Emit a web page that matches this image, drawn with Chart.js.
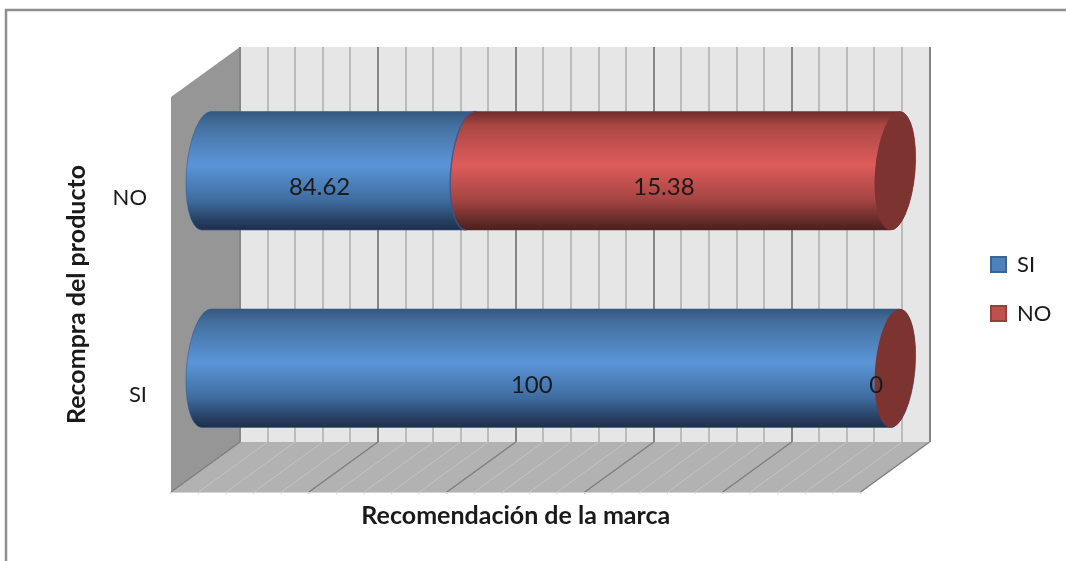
<!DOCTYPE html>
<html>
<head>
<meta charset="utf-8">
<style>
  html, body { margin: 0; padding: 0; background: #fff; overflow: hidden; }
  #wrap { width: 1066px; height: 561px; }
</style>
<script src="https://cdn.jsdelivr.net/npm/chart.js@4"></script>
</head>
<body>
<div id="wrap"><canvas id="chart" width="1066" height="561"></canvas></div>
<script>
const categories = ['NO', 'SI'];
const seriesNames = ['SI', 'NO'];
// bar lengths as drawn in the picture
const siLengths = [38.46, 100];
const noLengths = [61.54, 0];
// numbers printed on the bars (they differ from the drawn lengths in the original)
const siLabels = ['84.62', '100'];
const noLabels = ['15.38', '0'];
const FONT = 'Lato';

// half of the depth of the 3d box, bars stand in the middle of it
const DEPTH_X = 69, DEPTH_Y = 50;
const TILT = 5 * Math.PI / 180;
const CAP_RX = 20;

const blueStops = [[0, '#35597f'], [0.12, '#44709f'], [0.45, '#5b95d9'], [0.75, '#3f6c9f'], [0.92, '#263f62'], [1, '#1d2f4b']];
const redStops  = [[0, '#6f2c2a'], [0.12, '#ab4744'], [0.45, '#de5c5a'], [0.75, '#a34442'], [0.92, '#652b29'], [1, '#4a1f1e']];
const capColor = '#7d3430';

function barGradient(ctx, top, bottom, stops) {
    const g = ctx.createLinearGradient(0, top, 0, bottom);
    stops.forEach(s => g.addColorStop(s[0], s[1]));
    return g;
}

function polygon(ctx, pts, fill) {
    ctx.beginPath();
    pts.forEach((p, i) => i ? ctx.lineTo(p[0], p[1]) : ctx.moveTo(p[0], p[1]));
    ctx.closePath();
    ctx.fillStyle = fill;
    ctx.fill();
}

// one cylinder segment between x0 and x1, with the rounded left side bulging out
function drawCylinder(ctx, x0, x1, cy, r, stops, edge) {
    const dx = Math.sin(TILT) * r;
    const ry = r / Math.cos(TILT);
    ctx.beginPath();
    ctx.moveTo(x0 + dx, cy - r);
    ctx.lineTo(x1 + dx, cy - r);
    ctx.ellipse(x1, cy, CAP_RX, ry, TILT, -Math.PI / 2, Math.PI / 2);
    ctx.lineTo(x0 - dx, cy + r);
    ctx.ellipse(x0, cy, CAP_RX, ry, TILT, Math.PI / 2, Math.PI * 1.5);
    ctx.closePath();
    ctx.fillStyle = barGradient(ctx, cy - r, cy + r, stops);
    ctx.fill();
    ctx.strokeStyle = edge;
    ctx.lineWidth = 1;
    ctx.stroke();
}

const box3dPlugin = {
    id: 'box3d',
    afterLayout(chart) {
        // legend sits further right than the layout would put it
        const lg = chart.legend;
        const dx = 964 - lg.left;
        lg.left += dx; lg.right += dx;
        // axis titles belong to the front of the box, not the back wall
        const { x: xs, y: ys } = chart.scales;
        if (!xs._titleShifted) {
            shiftTitle(xs, -DEPTH_X, 0);
            shiftTitle(ys, 0, DEPTH_Y);
            xs._titleShifted = true;
        }
    },
    beforeDraw(chart) {
        const { ctx, chartArea: a, scales: { x } } = chart;
        const dx = DEPTH_X, dy = DEPTH_Y;
        ctx.save();
        // outer frame
        ctx.strokeStyle = '#8e8e8e';
        ctx.lineWidth = 2.5;
        ctx.beginPath();
        ctx.moveTo(6, 561); ctx.lineTo(6, 10); ctx.lineTo(1066, 10);
        ctx.stroke();
        // back wall, side wall, floor
        polygon(ctx, [[a.left, a.top], [a.right, a.top], [a.right, a.bottom], [a.left, a.bottom]], '#e6e6e6');
        polygon(ctx, [[a.left - dx, a.top + dy], [a.left, a.top], [a.left, a.bottom], [a.left - dx, a.bottom + dy]], '#969696');
        polygon(ctx, [[a.left - dx, a.bottom + dy], [a.left, a.bottom], [a.right, a.bottom], [a.right - dx, a.bottom + dy]], '#b2b2b2');
        // floor lines and little ticks on its front edge
        x.ticks.forEach(t => {
            const px = x.getPixelForValue(t.value);
            const major = t.value % 20 === 0;
            ctx.strokeStyle = major ? '#7f7f7f' : '#c4c4c4';
            ctx.lineWidth = major ? 1.5 : 1;
            ctx.beginPath();
            ctx.moveTo(px, a.bottom);
            ctx.lineTo(px - dx, a.bottom + dy);
            ctx.stroke();
            ctx.strokeStyle = '#d0d0d0';
            ctx.beginPath();
            ctx.moveTo(px - dx, a.bottom + dy);
            ctx.lineTo(px - dx, a.bottom + dy + 2);
            ctx.stroke();
        });
        ctx.strokeStyle = '#d4d4d4';
        ctx.lineWidth = 1;
        ctx.beginPath();
        ctx.moveTo(a.left - dx, a.bottom + dy + 0.5);
        ctx.lineTo(a.right - dx, a.bottom + dy + 0.5);
        ctx.stroke();
        ctx.restore();
    },
    beforeDatasetsDraw(chart) {
        // the library's bar rectangles give the position, the cylinders replace them.
        // SI first so the NO segment and its cap come out on top
        const { ctx } = chart;
        ctx.save();
        chart.getDatasetMeta(0).data.forEach(bar => {
            drawCylinder(ctx, bar.base - DEPTH_X / 2, bar.x - DEPTH_X / 2, bar.y + DEPTH_Y / 2, bar.height / 2, blueStops, 'rgba(50,90,140,0.55)');
        });
        chart.getDatasetMeta(1).data.forEach(bar => {
            const x0 = bar.base - DEPTH_X / 2;
            const x1 = bar.x - DEPTH_X / 2;
            const cy = bar.y + DEPTH_Y / 2;
            const r = bar.height / 2;
            if (x1 - x0 > 0.5) {
                drawCylinder(ctx, x0, x1, cy, r, redStops, 'rgba(110,45,50,0.5)');
                // bluish rim where the red part meets the blue one
                ctx.beginPath();
                ctx.ellipse(x0, cy, CAP_RX, r / Math.cos(TILT), TILT, Math.PI / 2, Math.PI * 1.5);
                ctx.strokeStyle = 'rgba(60,90,150,0.7)';
                ctx.lineWidth = 1.5;
                ctx.stroke();
            }
            ctx.beginPath();
            ctx.ellipse(x1, cy, CAP_RX, r / Math.cos(TILT), TILT, 0, Math.PI * 2);
            ctx.fillStyle = capColor;
            ctx.fill();
        });
        ctx.restore();
    },
    beforeDatasetDraw() {
        return false;
    },
    afterDatasetsDraw(chart) {
        const { ctx } = chart;
        const texts = [siLabels, noLabels];
        ctx.save();
        ctx.font = '24px ' + FONT;
        ctx.fillStyle = '#1a1a1a';
        ctx.textAlign = 'center';
        ctx.textBaseline = 'middle';
        texts.forEach((list, ds) => {
            chart.getDatasetMeta(ds).data.forEach((bar, i) => {
                const mid = (bar.base + bar.x) / 2 - DEPTH_X / 2;
                ctx.fillText(list[i], mid - 19, bar.y + DEPTH_Y / 2 + 17);
            });
        });
        ctx.restore();
    }
};

function shiftTitle(scale, dx, dy) {
    const orig = scale.drawTitle;
    scale.drawTitle = function () {
        const c = this.ctx;
        c.save();
        c.translate(dx, dy);
        orig.call(this);
        c.restore();
    };
}

new Chart(document.getElementById('chart'), {
    type: 'bar',
    plugins: [box3dPlugin],
    data: {
        labels: categories,
        datasets: [
            { label: seriesNames[0], data: siLengths, backgroundColor: '#4f81bd', borderColor: '#3a6595', borderWidth: 2 },
            { label: seriesNames[1], data: noLengths, backgroundColor: '#c0504d', borderColor: '#96403d', borderWidth: 2 }
        ]
    },
    options: {
        indexAxis: 'y',
        responsive: false,
        animation: false,
        categoryPercentage: 1,
        barPercentage: 0.6,
        layout: { padding: { left: 62, right: 39, top: 47, bottom: 30 } },
        plugins: {
            tooltip: { enabled: false },
            legend: {
                position: 'right',
                labels: {
                    boxWidth: 15,
                    boxHeight: 15,
                    padding: 27,
                    color: '#1a1a1a',
                    font: { family: FONT, size: 22 }
                }
            }
        },
        scales: {
            x: {
                stacked: true,
                min: 0,
                max: 100,
                ticks: { stepSize: 4, display: false },
                border: { display: false },
                grid: {
                    drawTicks: false,
                    lineWidth: 2,
                    color: ctx => ctx.tick && ctx.tick.value % 20 === 0 ? '#868686' : '#bcbcbc'
                },
                title: {
                    display: true,
                    text: 'Recomendación de la marca',
                    color: '#1a1a1a',
                    padding: { top: 59, bottom: 0 },
                    font: { family: FONT, size: 25, weight: 'bold' }
                }
            },
            y: {
                stacked: true,
                border: { display: false },
                grid: { display: false },
                afterFit(scale) {
                    // the big tick padding must not push the plot area down
                    scale.paddingTop = 0;
                    scale.paddingBottom = 0;
                    scale.width = 178;
                },
                ticks: {
                    padding: 85,
                    labelOffset: 52,
                    color: '#1a1a1a',
                    font: { family: FONT, size: 22 }
                },
                title: {
                    display: true,
                    text: 'Recompra del producto',
                    color: '#1a1a1a',
                    padding: { top: 0, bottom: 30 },
                    font: { family: FONT, size: 25, weight: 'bold' }
                }
            }
        }
    }
});
</script>
</body>
</html>
